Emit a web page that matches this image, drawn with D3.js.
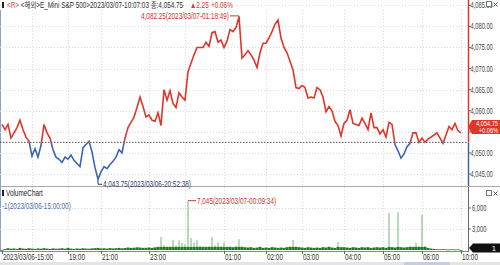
<!DOCTYPE html>
<html>
<head>
<meta charset="utf-8">
<script src="https://cdn.jsdelivr.net/npm/d3@7"></script>
<style>
  html, body { margin: 0; padding: 0; background: #fff; }
  svg { display: block; font-family: "Liberation Sans", "Noto Sans CJK KR", sans-serif; }
</style>
</head>
<body>
<svg id="chart" width="500" height="265"></svg>
<script>
// price per bar
const prices = [
  4056.75, 4055.5, 4056.75, 4053.5, 4054.75, 4056, 4057.75, 4055.5, 4053.75, 4052.75,
  4049.25, 4051, 4049, 4051.75, 4056.75, 4054.75, 4053.5, 4050.75, 4049, 4048.5,
  4047.75, 4049, 4048.5, 4049.5, 4048.25, 4047.5, 4046.75, 4051.25, 4052, 4052.75,
  4050.25, 4046.5, 4043.75, 4045.5, 4046.75, 4046.25, 4047.25, 4048, 4049, 4050.75,
  4050, 4053.5, 4056, 4057.25, 4058.5, 4060.75, 4063.25, 4061, 4058.5, 4059,
  4057.75, 4057.5, 4059.5, 4056.5, 4065, 4062.5, 4064.75, 4061.75, 4060.75, 4064.25,
  4063.25, 4062.5, 4069.25, 4071.25, 4073.25, 4075, 4075, 4075, 4076.25, 4075.25,
  4078.5, 4078.75, 4076.25, 4076.75, 4075, 4076.5, 4079.25, 4078.75, 4079.75, 4082.25,
  4072.5, 4073.25, 4074.25, 4073.25, 4072, 4070.25, 4073.75, 4076, 4076, 4077.25,
  4078.75, 4080.5, 4081.5, 4077.25, 4075, 4073.75, 4071.75, 4069.75, 4065.5, 4065.25,
  4066, 4065.5, 4063, 4063.25, 4063, 4065.5, 4065, 4063.25, 4059.75, 4061,
  4060, 4057.5, 4056.5, 4054, 4057, 4057.75, 4060.25, 4057, 4056.75, 4056.5,
  4058.25, 4057, 4055.5, 4059.5, 4056, 4056, 4054.5, 4055.5, 4053.75, 4057.25,
  4056.75, 4052, 4050.5, 4048.75, 4049.75, 4051.5, 4052.25, 4054.75, 4054.75, 4052.5,
  4053.5, 4052.5, 4053.25, 4053.75, 4054.25, 4054.75, 4053.5, 4052.25, 4054.25, 4056.25,
  4055.5, 4057, 4055.25, 4054.75
]

// contracts per bar
const volumes = [
  1, 150, 250, 180, 220, 150, 300, 200, 180, 250,
  200, 150, 220, 180, 260, 200, 150, 230, 180, 200,
  250, 180, 300, 200, 160, 220, 180, 250, 200, 180,
  230, 260, 300, 220, 250, 200, 270, 220, 250, 300,
  240, 280, 350, 300, 320, 380, 350, 300, 320, 350,
  300, 380, 450, 1850, 700, 500, 500, 1450, 650, 1400,
  1000, 800, 7045, 1700, 1100, 1400, 600, 500, 450, 550,
  1850, 700, 1100, 500, 1100, 450, 500, 400, 600, 1550,
  500, 400, 350, 400, 300, 350, 450, 300, 350, 300,
  400, 350, 300, 350, 300, 400, 500, 1450, 500, 400,
  350, 300, 400, 350, 300, 350, 300, 400, 350, 500,
  350, 300, 1150, 400, 400, 350, 300, 400, 350, 300,
  400, 350, 400, 300, 350, 400, 350, 400, 300, 5300,
  400, 350, 5400, 400, 350, 400, 500, 450, 1050, 500,
  5000, 600, 300, 200, 150, 120, 100, 120, 100, 80,
  100, 80, 100, 1
]

const timeLabels = ['2023/03/06-15:00', '19:00', '21:00', '23:00', '01:00', '02:00', '03:00', '04:00', '05:00', '06:00', '10:00']
const timeBars = [0, 22, 33, 49, 74, 88, 100, 114, 127, 140, 153]
const gridBars = [10, 22, 33, 49, 61, 74, 88, 100, 114, 127, 140, 153]
const priceTicks = [4045, 4050, 4055, 4060, 4065, 4070, 4075, 4080, 4085]
const volTicks = [3000, 6000]
const prevClose = 4052.5
const stamp = '2023/03/07-10:07:03'
const maxTime = '2023/03/07-01:18:49'
const minTime = '2023/03/06-20:52:38'
const volMaxTime = '2023/03/07-00:09:34'
const volMinTime = '2023/03/06-15:00:00'

const red = '#e2352a'
const blue = '#3a64b4'
const axisX = 468
const fs = 8.4
const fmt2 = d3.format(',.2f')

// the terminal draws with a narrow font: squeeze labels horizontally around their anchor x
const squeeze = (sel, k = 0.76) => sel.each(function () {
  const ax = +this.getAttribute('x')
  d3.select(this).attr('transform', `translate(${ax * (1 - k)},0) scale(${k},1)`)
})

const svg = d3.select('#chart')
const x = d3.scaleLinear().domain([0, prices.length - 1]).range([2, 461])
const y = d3.scaleLinear().domain([4045, 4085]).range([174, 5.3])
const yv = d3.scaleLinear().domain([0, 6000]).range([250, 208])
const yClose = y(prevClose)
const last = prices[prices.length - 1]
const chg = last - prevClose
const pct = '+' + d3.format('.2f')(chg / prevClose * 100) + '%'
const yb = y(last) - 6

// panel frames
svg.append('line').attr('x1', 0).attr('x2', 500).attr('y1', 186.5).attr('y2', 186.5).attr('stroke', '#a9a9a9')
svg.append('line').attr('x1', 0).attr('x2', axisX).attr('y1', 251.5).attr('y2', 251.5).attr('stroke', '#8a8a8a')
svg.append('line').attr('x1', 0.5).attr('x2', 0.5).attr('y1', 10).attr('y2', 252).attr('stroke', '#8aa2c8')

// grids
const grid = svg.append('g').attr('stroke', '#d9d9d9').attr('stroke-dasharray', '1,2')
grid.selectAll('line.h').data(priceTicks).join('line')
  .attr('x1', 0).attr('x2', axisX).attr('y1', d => Math.round(y(d)) + 0.5).attr('y2', d => Math.round(y(d)) + 0.5)
grid.selectAll('line.hv').data(volTicks).join('line')
  .attr('x1', 0).attr('x2', axisX).attr('y1', d => Math.round(yv(d)) + 0.5).attr('y2', d => Math.round(yv(d)) + 0.5)
grid.selectAll('line.v').data(gridBars).join('line')
  .attr('x1', d => Math.round(x(d)) + 0.5).attr('x2', d => Math.round(x(d)) + 0.5).attr('y1', 10).attr('y2', 251)

// previous close
svg.append('line').attr('x1', 0).attr('x2', axisX).attr('y1', yClose).attr('y2', yClose)
  .attr('stroke', '#555').attr('stroke-dasharray', '1.5,1.5')

// price line, red above close / blue below
const defs = svg.append('defs')
defs.append('clipPath').attr('id', 'up').append('rect').attr('x', 0).attr('y', 0).attr('width', axisX).attr('height', yClose)
defs.append('clipPath').attr('id', 'dn').append('rect').attr('x', 0).attr('y', yClose).attr('width', axisX).attr('height', 186 - yClose)
const line = d3.line().x((d, i) => x(i)).y(d => y(d))
svg.append('path').datum(prices).attr('d', line).attr('fill', 'none').attr('stroke', red).attr('stroke-width', 1.6).attr('clip-path', 'url(#up)')
svg.append('path').datum(prices).attr('d', line).attr('fill', 'none').attr('stroke', blue).attr('stroke-width', 1.6).attr('clip-path', 'url(#dn)')

// max / min labels
const iMax = d3.maxIndex(prices)
const iMin = d3.minIndex(prices)
svg.append('path').attr('d', `M${x(iMax) - 9},${y(prices[iMax]) - 1}H${x(iMax)}V${y(prices[iMax]) + 2}`)
  .attr('fill', 'none').attr('stroke', '#c0392b')
svg.append('text').attr('x', x(iMax) - 10).attr('y', y(prices[iMax]) + 2).attr('text-anchor', 'end')
  .attr('font-size', fs).attr('fill', '#c8362a').text(`${fmt2(prices[iMax])}(${maxTime})`).call(squeeze)
svg.append('path').attr('d', `M${x(iMin)},${y(prices[iMin]) + 1}V${y(prices[iMin]) + 5}H${x(iMin) + 4}`)
  .attr('fill', 'none').attr('stroke', '#2b3f73')
svg.append('text').attr('x', x(iMin) + 5).attr('y', y(prices[iMin]) + 8)
  .attr('font-size', fs).attr('fill', '#2b3f73').text(`${fmt2(prices[iMin])}(${minTime})`).call(squeeze)

// right price axis
svg.append('line').attr('x1', axisX + 0.5).attr('x2', axisX + 0.5).attr('y1', 0).attr('y2', yClose).attr('stroke', red).attr('stroke-width', 1.5)
svg.append('line').attr('x1', axisX + 0.5).attr('x2', axisX + 0.5).attr('y1', yClose).attr('y2', 186).attr('stroke', blue).attr('stroke-width', 1.5)
const pAxis = svg.append('g')
pAxis.selectAll('line').data(priceTicks).join('line')
  .attr('x1', axisX).attr('x2', axisX + 3).attr('y1', d => y(d)).attr('y2', d => y(d)).attr('stroke', '#666')
// the label hidden under the last-price badge is left out, as on the screen
pAxis.selectAll('text').data(priceTicks.filter(d => Math.abs(y(d) - yb) > 9)).join('text')
  .attr('x', axisX + 2.5).attr('y', d => y(d) + 3).attr('font-size', 8.2).attr('fill', '#444')
  .text(d => fmt2(d)).call(squeeze, 0.7)

// last price badge
svg.append('path').attr('d', `M${axisX},${yb}L${axisX + 4},${yb - 7}H500V${yb + 7}H${axisX + 4}Z`).attr('fill', red)
svg.append('text').attr('x', 498).attr('y', yb - 0.5).attr('text-anchor', 'end').attr('font-size', 7.8).attr('fill', '#fff').text(fmt2(last)).call(squeeze, 0.72)
svg.append('text').attr('x', 498).attr('y', yb + 6.2).attr('text-anchor', 'end').attr('font-size', 7.8).attr('fill', '#fff').text(pct).call(squeeze, 0.72)

// header
svg.append('rect').attr('x', 2).attr('y', 2).attr('width', 2).attr('height', 6).attr('fill', '#222')
const head = svg.append('text').attr('x', 7).attr('y', 8.5).attr('font-size', fs).attr('fill', '#333')
head.append('tspan').attr('fill', '#d0504a').text('<R>')
head.append('tspan').text(` <해외>E_Mini S&P 500>${stamp} 종:${fmt2(last)}`)
head.call(squeeze)
svg.append('text').attr('x', 190).attr('y', 8.5).attr('font-size', fs).attr('fill', red)
  .text('▲' + d3.format('.2f')(chg)).call(squeeze)
svg.append('text').attr('x', 211).attr('y', 8.5).attr('font-size', fs).attr('fill', red)
  .text(pct).call(squeeze)

// window buttons
const btn = (yy) => {
  svg.append('rect').attr('x', 486.5).attr('y', yy + 0.5).attr('width', 5).attr('height', 5).attr('fill', '#fff').attr('stroke', '#777')
  svg.append('path').attr('d', `M${493.5},${yy + 1.5}l4,4m0,-4l-4,4`).attr('stroke', '#555')
}
btn(1)
btn(190)

// volume bars: dark base band + thin light spikes
const vol = svg.append('g')
vol.selectAll('rect.base').data(volumes).join('rect')
  .attr('x', (d, i) => x(i) - 1.5).attr('width', 3)
  .attr('y', d => yv(Math.min(d, 450))).attr('height', d => Math.max(0.8, 250 - yv(Math.min(d, 450))))
  .attr('fill', '#1b7d1b')
vol.selectAll('rect.spike').data(volumes).join('rect')
  .attr('x', (d, i) => x(i) - 0.5).attr('width', 1)
  .attr('y', d => yv(d)).attr('height', d => Math.max(0, yv(Math.min(d, 450)) - yv(d)))
  .attr('fill', '#76b876')

svg.append('rect').attr('x', 2).attr('y', 190).attr('width', 2).attr('height', 6).attr('fill', '#222')
svg.append('text').attr('x', 6).attr('y', 196.5).attr('font-size', fs).attr('fill', '#222').text('VolumeChart').call(squeeze)

const iVmax = d3.maxIndex(volumes)
svg.append('path').attr('d', `M${x(iVmax)},${yv(volumes[iVmax])}H${x(iVmax) + 8}`).attr('stroke', '#c0392b')
svg.append('text').attr('x', x(iVmax) + 9).attr('y', yv(volumes[iVmax]) + 3).attr('font-size', fs).attr('fill', '#c8362a')
  .text(`${d3.format(',')(volumes[iVmax])}(${volMaxTime})`).call(squeeze)
svg.append('text').attr('x', 2).attr('y', 209).attr('font-size', fs).attr('fill', '#4a6fb0')
  .text(`-${d3.min(volumes)}(${volMinTime})`).call(squeeze)

// volume axis
svg.append('line').attr('x1', axisX + 0.5).attr('x2', axisX + 0.5).attr('y1', 187).attr('y2', 252).attr('stroke', '#666')
const vAxis = svg.append('g')
vAxis.selectAll('line').data(volTicks).join('line')
  .attr('x1', axisX).attr('x2', axisX + 3).attr('y1', d => yv(d)).attr('y2', d => yv(d)).attr('stroke', '#666')
vAxis.selectAll('text').data(volTicks).join('text')
  .attr('x', axisX + 4).attr('y', d => yv(d) + 3).attr('font-size', 8.2).attr('fill', '#444')
  .text(d => d3.format(',')(d)).call(squeeze, 0.7)
const lastVol = volumes[volumes.length - 1]
const yvb = yv(lastVol) - 2
svg.append('path').attr('d', `M${axisX + 1},${yvb}L${axisX + 5},${yvb - 4.5}H500V${yvb + 4.5}H${axisX + 5}Z`).attr('fill', '#111')
svg.append('text').attr('x', 496).attr('y', yvb + 3).attr('text-anchor', 'end').attr('font-size', 7.6).attr('fill', '#fff').text(lastVol)

// time axis
const tAxis = svg.append('g')
tAxis.selectAll('line').data(timeBars).join('line')
  .attr('x1', d => Math.round(x(d)) + 0.5).attr('x2', d => Math.round(x(d)) + 0.5).attr('y1', 251).attr('y2', 254).attr('stroke', '#666')
tAxis.selectAll('text').data(timeBars).join('text')
  .attr('x', d => x(d) + 1).attr('y', 260.5).attr('font-size', fs).attr('fill', '#333')
  .text((d, i) => timeLabels[i]).call(squeeze)

// scroll bar
svg.append('rect').attr('x', 0).attr('y', 262).attr('width', 500).attr('height', 3).attr('fill', '#e4e4e4')
svg.append('rect').attr('x', 404).attr('y', 262).attr('width', 46).attr('height', 3).attr('fill', '#c6cedb')
</script>
</body>
</html>
